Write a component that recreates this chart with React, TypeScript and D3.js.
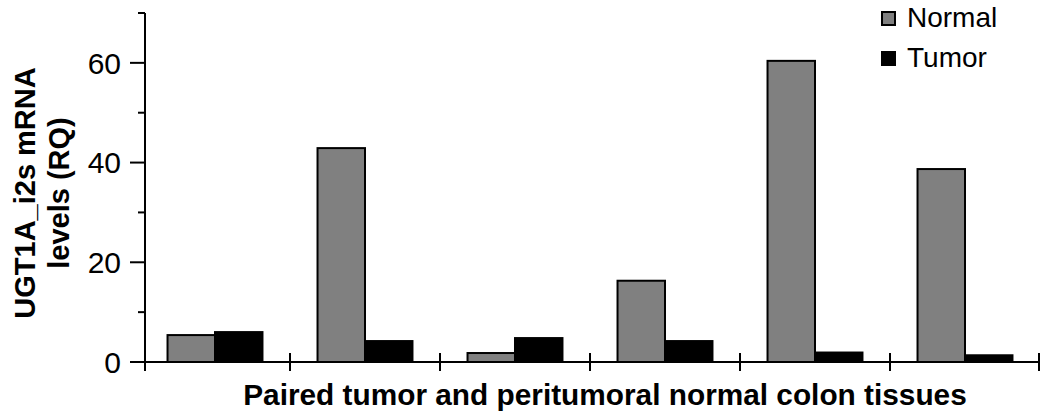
import React from "react";
import * as d3 from "d3";

const categories = ["1", "2", "3", "4", "5", "6"];
const seriesNames = ["Normal", "Tumor"];
const normalValues = [5.4, 42.9, 1.8, 16.3, 60.4, 38.7];
const tumorValues = [6.0, 4.2, 4.8, 4.2, 1.9, 1.35];
const yTicks = [0, 20, 40, 60];
const yMinorTicks = [10, 30, 50, 70];
const yTitleLines = ["UGT1A_i2s mRNA", "levels (RQ)"];
const xTitle = "Paired tumor and peritumoral normal colon tissues";
const colors: Record<string, string> = { Normal: "#808080", Tumor: "#000000" };

const W = 1040;
const H = 411;
const axisX = 145;
const zeroY = 362;
const topY = 13;
const font = "'Liberation Sans', Arial, sans-serif";

export default function App() {
  const y = d3.scaleLinear().domain([0, 70]).range([zeroY, topY]);
  const x0 = d3
    .scaleBand<string>()
    .domain(categories)
    .range([140, 1040])
    .paddingInner(0.367)
    .paddingOuter(0.367 / 2);
  const x1 = d3
    .scaleBand<string>()
    .domain(seriesNames)
    .range([0, x0.bandwidth()])
    .padding(0);
  const step = x0.step();
  const boundaries = categories
    .slice(1)
    .map((c) => (x0(c) as number) - (step * 0.367) / 2)
    .concat([(x0(categories[categories.length - 1]) as number) + x0.bandwidth() + (step * 0.367) / 2 - 1]);

  const data = categories.map((c, i) => ({
    cat: c,
    values: [
      { key: "Normal", v: normalValues[i] },
      { key: "Tumor", v: tumorValues[i] },
    ],
  }));

  return (
    <svg
      width={W}
      height={H}
      style={{ position: "absolute", left: 0, top: 0, background: "#fff" }}
      fontFamily={font}
    >
      <rect x={0} y={0} width={W} height={H} fill="#fff" />
      {/* bars */}
      {data.map((d) => (
        <g key={d.cat} transform={`translate(${x0(d.cat)},0)`}>
          {d.values.map((s) => (
            <rect
              key={s.key}
              x={x1(s.key)}
              y={y(s.v)}
              width={x1.bandwidth()}
              height={zeroY - y(s.v)}
              fill={colors[s.key]}
              stroke="#000"
              strokeWidth={2}
            />
          ))}
        </g>
      ))}
      {/* y axis */}
      <line x1={axisX} x2={axisX} y1={topY} y2={zeroY} stroke="#000" strokeWidth={2} />
      {yTicks.map((t) => (
        <g key={t}>
          <line x1={130} x2={axisX} y1={y(t)} y2={y(t)} stroke="#000" strokeWidth={2} />
          <text
            x={121}
            y={y(t)}
            dy="0.36em"
            textAnchor="end"
            fontSize={30}
            fill="#000"
          >
            {t}
          </text>
        </g>
      ))}
      {yMinorTicks.map((t) => (
        <line key={t} x1={138} x2={axisX} y1={y(t)} y2={y(t)} stroke="#000" strokeWidth={2} />
      ))}
      {/* x axis */}
      <line x1={130} x2={1040} y1={zeroY} y2={zeroY} stroke="#000" strokeWidth={2} />
      <line x1={axisX} x2={axisX} y1={zeroY} y2={371} stroke="#000" strokeWidth={2} />
      {boundaries.map((b, i) => (
        <line key={i} x1={b} x2={b} y1={353} y2={371} stroke="#000" strokeWidth={2} />
      ))}
      {/* titles */}
      <text
        x={605}
        y={405}
        textAnchor="middle"
        fontSize={29.8}
        fontWeight="bold"
        fill="#000"
      >
        {xTitle}
      </text>
      <g transform="translate(0,193) rotate(-90)">
        {yTitleLines.map((l, i) => (
          <text
            key={l}
            x={0}
            y={35 + i * 34}
            textAnchor="middle"
            fontSize={29}
            fontWeight="bold"
            fill="#000"
          >
            {l}
          </text>
        ))}
      </g>
      {/* legend */}
      {seriesNames.map((s, i) => (
        <g key={s} transform={`translate(882,${12 + i * 40})`}>
          <rect x={0} y={0} width={13} height={13} fill={colors[s]} stroke="#000" strokeWidth={2} />
          <text x={25} y={15} fontSize={28} fill="#000">
            {s}
          </text>
        </g>
      ))}
    </svg>
  );
}
